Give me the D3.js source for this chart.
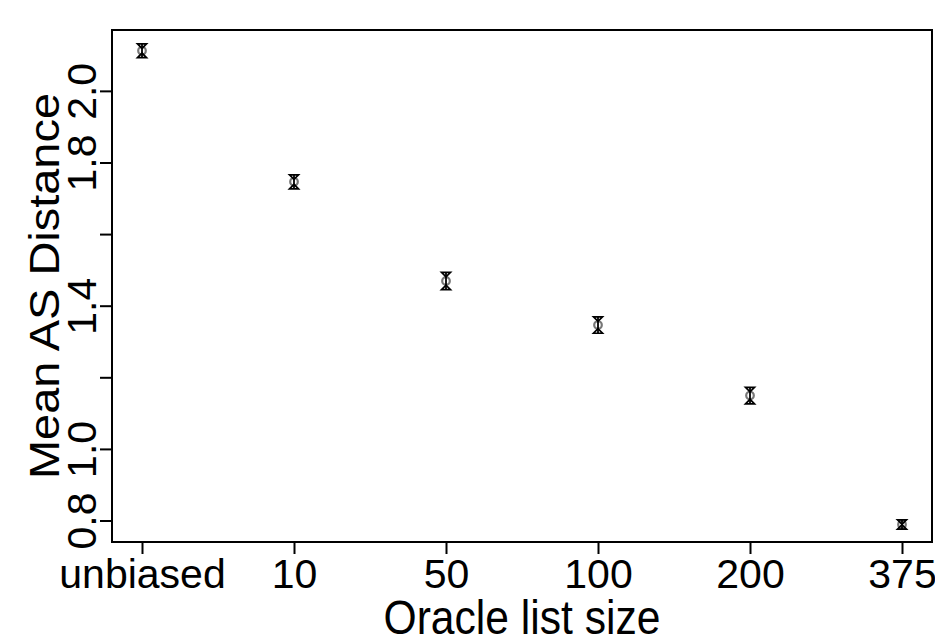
<!DOCTYPE html>
<html>
<head>
<meta charset="utf-8">
<script src="https://cdn.jsdelivr.net/npm/d3@7"></script>
<style>
  body { margin: 0; background: #fff; }
  text { font-family: "Liberation Sans", Arial, sans-serif; fill: #000; }
</style>
</head>
<body>
<svg></svg>
<script>
const categories = ["unbiased", "10", "50", "100", "200", "375"]
const means = [2.112, 1.746, 1.469, 1.346, 1.149, 0.789]
const errors = [0.019, 0.0195, 0.024, 0.023, 0.023, 0.013]
const yTicks = [0.8, 1.0, 1.2, 1.4, 1.6, 1.8, 2.0]
const yTickLabels = ["0.8", "1.0", "", "1.4", "", "1.8", "2.0"]

let width = 935
let height = 638
let plotLeft = 112, plotRight = 932, plotTop = 30, plotBottom = 542

let svg = d3.select("svg")
    .attr("width", width)
    .attr("height", height)

let xScale = d3.scalePoint()
    .domain(categories)
    .range([142, 902])

let yScale = d3.scaleLinear()
    .domain([0.74, 2.17])
    .range([plotBottom, plotTop])

// frame
svg.append("rect")
    .attr("x", plotLeft)
    .attr("y", plotTop)
    .attr("width", plotRight - plotLeft)
    .attr("height", plotBottom - plotTop)
    .attr("fill", "none")
    .attr("stroke", "#000")
    .attr("stroke-width", 2)

// x axis
let xAxis = d3.axisBottom(xScale).tickSize(12).tickSizeOuter(0)
let gx = svg.append("g")
    .attr("transform", "translate(0," + plotBottom + ")")
    .call(xAxis)
gx.select(".domain").remove()
gx.selectAll(".tick line").attr("stroke", "#000").attr("stroke-width", 2)
gx.selectAll(".tick text")
    .attr("y", 46)
    .attr("dy", 0)
    .style("font-size", "41px")
    .style("font-family", "Liberation Sans, Arial, sans-serif")

// y axis
let yAxis = d3.axisLeft(yScale)
    .tickValues(yTicks)
    .tickFormat((d, i) => yTickLabels[i])
    .tickSize(12)
    .tickSizeOuter(0)
let gy = svg.append("g")
    .attr("transform", "translate(" + plotLeft + ",0)")
    .call(yAxis)
gy.select(".domain").remove()
gy.selectAll(".tick line").attr("stroke", "#000").attr("stroke-width", 2)
gy.selectAll(".tick text")
    .attr("x", 0)
    .attr("dy", 0)
    .attr("text-anchor", "middle")
    .attr("transform", "translate(-16,0) rotate(-90)")
    .style("font-size", "41px")
    .style("font-family", "Liberation Sans, Arial, sans-serif")

// titles
svg.append("text")
    .attr("x", (plotLeft + plotRight) / 2)
    .attr("y", 634)
    .attr("text-anchor", "middle")
    .attr("font-size", 48)
    .attr("textLength", 277)
    .attr("lengthAdjust", "spacingAndGlyphs")
    .text("Oracle list size")

svg.append("text")
    .attr("transform", "translate(59," + ((plotTop + plotBottom) / 2) + ") rotate(-90)")
    .attr("text-anchor", "middle")
    .attr("font-size", 42)
    .attr("textLength", 386)
    .attr("lengthAdjust", "spacingAndGlyphs")
    .text("Mean AS Distance")

// points with error bars
let pts = svg.append("g")
    .selectAll("g")
    .data(categories)
    .enter()
    .append("g")
    .attr("transform", (d, i) => "translate(" + xScale(d) + ",0)")

pts.append("circle")
    .attr("cx", 0)
    .attr("cy", (d, i) => yScale(means[i]))
    .attr("r", 3.8)
    .attr("fill", "none")
    .attr("stroke", "#777")
    .attr("stroke-width", 2.2)

pts.append("line")
    .attr("x1", 0).attr("x2", 0)
    .attr("y1", (d, i) => yScale(means[i] + errors[i]))
    .attr("y2", (d, i) => yScale(means[i] - errors[i]))
    .attr("stroke", "#000")
    .attr("stroke-width", 1.8)

let cw = 4.5, ch = 4.5
pts.append("path")
    .attr("d", (d, i) => {
        let t = yScale(means[i] + errors[i])
        let b = yScale(means[i] - errors[i])
        return "M" + (-cw) + "," + t + "L" + cw + "," + t + "L0," + (t + ch) + "Z" +
               "M" + (-cw) + "," + b + "L" + cw + "," + b + "L0," + (b - ch) + "Z"
    })
    .attr("fill", "none")
    .attr("stroke", "#000")
    .attr("stroke-width", 1.7)
    .attr("stroke-linejoin", "miter")
</script>
</body>
</html>
